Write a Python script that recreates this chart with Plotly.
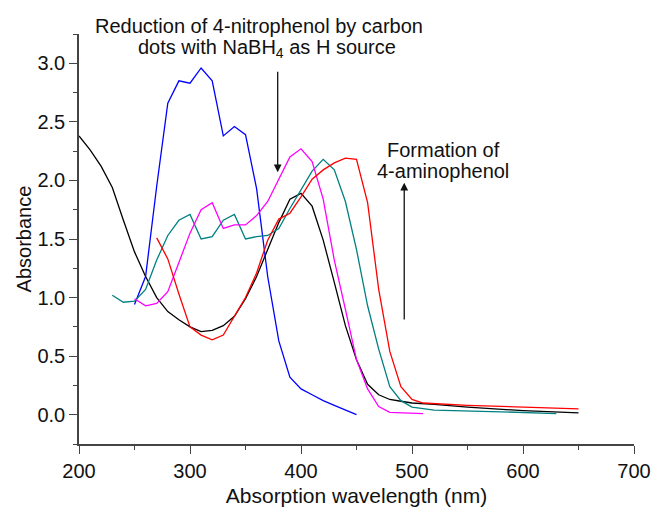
import plotly.graph_objects as go

# ---- data ----
black_x = [200, 210, 220, 230, 240, 250, 260, 270, 280, 290, 300, 310, 320, 330, 340, 350,
           360, 370, 380, 390, 400, 410, 420, 430, 440, 450, 460, 470, 480, 490, 500,
           520, 550, 600, 650]
black_y = [2.38, 2.26, 2.12, 1.94, 1.66, 1.39, 1.18, 1.00, 0.88, 0.81, 0.75, 0.71, 0.72, 0.76,
           0.84, 0.99, 1.18, 1.41, 1.64, 1.84, 1.89, 1.78, 1.49, 1.13, 0.76, 0.47, 0.26, 0.17,
           0.13, 0.115, 0.10, 0.088, 0.065, 0.035, 0.015]

blue_x = [250, 260, 270, 280, 290, 300, 310, 320, 330, 340, 350, 360, 370, 380, 390, 400,
          410, 420, 430, 440, 450]
blue_y = [0.94, 1.18, 1.95, 2.66, 2.85, 2.83, 2.96, 2.85, 2.38, 2.46, 2.39, 1.93, 1.18, 0.63,
          0.32, 0.22, 0.17, 0.12, 0.08, 0.04, 0.0]

teal_x = [230, 240, 250, 260, 270, 280, 290, 300, 310, 320, 330, 340, 350, 360, 370, 380,
          390, 400, 410, 420, 430, 440, 450, 460, 470, 480, 490, 500, 520, 580, 630]
teal_y = [1.02, 0.96, 0.97, 1.07, 1.32, 1.53, 1.66, 1.71, 1.50, 1.52, 1.66, 1.71, 1.50, 1.52,
          1.53, 1.59, 1.76, 1.92, 2.08, 2.18, 2.09, 1.82, 1.41, 0.93, 0.56, 0.24, 0.12, 0.065,
          0.04, 0.025, 0.01]

magenta_x = [250, 260, 270, 280, 290, 300, 310, 320, 330, 340, 350, 360, 370, 380, 390, 400,
             410, 420, 430, 440, 450, 460, 470, 480, 510]
magenta_y = [0.99, 0.93, 0.95, 1.05, 1.30, 1.55, 1.75, 1.81, 1.59, 1.62, 1.62, 1.70, 1.82,
             2.01, 2.20, 2.27, 2.16, 1.84, 1.32, 0.90, 0.47, 0.22, 0.07, 0.02, 0.01]

red_x = [270, 280, 290, 300, 310, 320, 330, 340, 350, 360, 370, 380, 390, 400, 410, 420,
         430, 440, 450, 460, 470, 480, 490, 500, 510, 550, 610, 650]
red_y = [1.51, 1.33, 1.03, 0.75, 0.68, 0.64, 0.68, 0.84, 1.00, 1.21, 1.49, 1.67, 1.72, 1.86,
         2.01, 2.09, 2.15, 2.19, 2.18, 1.81, 1.07, 0.54, 0.24, 0.13, 0.10, 0.08, 0.06, 0.05]

series = [
    ("black", black_x, black_y, "#000000"),
    ("blue", blue_x, blue_y, "#0000ff"),
    ("teal", teal_x, teal_y, "#008080"),
    ("magenta", magenta_x, magenta_y, "#ff00ff"),
    ("red", red_x, red_y, "#ff0000"),
]

FONT = "Liberation Sans, Arial, Helvetica, sans-serif"
AX = "#444444"
FS = 20

fig = go.Figure()
for name, xs, ys, col in series:
    fig.add_trace(go.Scatter(x=xs, y=ys, mode="lines", name=name,
                             line=dict(color=col, width=1.3), showlegend=False))

axis_common = dict(showgrid=False, zeroline=False, showline=True, linecolor=AX, linewidth=1.5,
                   ticks="outside", ticklen=8, tickwidth=1.2, tickcolor=AX,
                   tickfont=dict(family=FONT, size=FS, color="#111"),
                   mirror=False, automargin=False)

fig.update_layout(
    width=659, height=507,
    margin=dict(l=79, r=25, t=34, b=63),
    paper_bgcolor="white", plot_bgcolor="white",
    font=dict(family=FONT, size=FS, color="#111"),
    xaxis=dict(range=[200, 700], dtick=100, tick0=200,
               title=dict(text="Absorption wavelength (nm)", font=dict(family=FONT, size=21),
                          standoff=10),
               minor=dict(dtick=50, ticklen=4, tickcolor=AX, tickwidth=1.2, ticks="outside"),
               **axis_common),
    yaxis=dict(range=[-0.25, 3.25], dtick=0.5, tick0=0, tickformat=".1f",
               title=dict(text="Absorbance", font=dict(family=FONT, size=20), standoff=0),
               minor=dict(dtick=0.25, ticklen=4, tickcolor=AX, tickwidth=1.2, ticks="outside"),
               **axis_common),
)

# annotations
fig.add_annotation(x=362.6, y=1.02, xref="x", yref="paper", yanchor="middle", showarrow=False,
                   text="Reduction of 4-nitrophenol by carbon",
                   font=dict(family=FONT, size=FS, color="#111"))
fig.add_annotation(x=369.4, y=3.13, xref="x", yref="y", showarrow=False,
                   text="dots with NaBH<sub>4</sub> as H source",
                   font=dict(family=FONT, size=FS, color="#111"))
fig.add_annotation(x=379, y=2.07, ax=379, ay=2.94, xref="x", yref="y", axref="x", ayref="y",
                   showarrow=True, arrowhead=2, arrowsize=1.2, arrowwidth=1.3,
                   arrowcolor="#111", text="")
fig.add_annotation(x=528, y=2.26, xref="x", yref="y", showarrow=False,
                   text="Formation of", font=dict(family=FONT, size=FS, color="#111"))
fig.add_annotation(x=528, y=2.08, xref="x", yref="y", showarrow=False,
                   text="4-aminophenol", font=dict(family=FONT, size=FS, color="#111"))
fig.add_annotation(x=493, y=1.98, ax=493, ay=0.80, xref="x", yref="y", axref="x", ayref="y",
                   showarrow=True, arrowhead=2, arrowsize=1.2, arrowwidth=1.3,
                   arrowcolor="#111", text="")

fig.write_html("out.html")
